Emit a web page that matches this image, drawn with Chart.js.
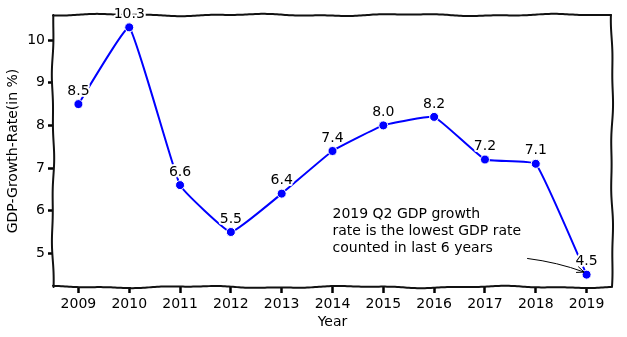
<!DOCTYPE html>
<html>
<head>
<meta charset="utf-8">
<script src="https://cdn.jsdelivr.net/npm/chart.js@4.4.1/dist/chart.umd.min.js"></script>
<style>
    html, body { margin: 0; padding: 0; background: #fff; }
    #chart { display: block; }
</style>
</head>
<body>
<canvas id="chart" width="627" height="337"></canvas>
<script>
const years = [2009, 2010, 2011, 2012, 2013, 2014, 2015, 2016, 2017, 2018, 2019];
const growthRates = [8.5, 10.3, 6.6, 5.5, 6.4, 7.4, 8.0, 8.2, 7.2, 7.1, 4.5];
const yTicks = [5, 6, 7, 8, 9, 10];
const noteLines = ["2019 Q2 GDP growth", "rate is the lowest GDP rate", "counted in last 6 years"];
const noteAt = [2014, 5.12];        // left / middle of the last text line
const arrowFrom = [2017.83, 4.88];
const arrowTo = [2018.95, 4.56];

const FONT = "'DejaVu Sans', sans-serif";

// deterministic hand-drawn wobble for the frame
function wobble(t, seed) {
    return 0.8 * Math.sin(t / 24 + seed) + 0.4 * Math.sin(t / 9.1 + seed * 2.1);
}

function haloText(ctx, text, x, y) {
    ctx.lineWidth = 4;
    ctx.strokeStyle = "#fff";
    ctx.lineJoin = "round";
    ctx.strokeText(text, x, y);
    ctx.fillStyle = "#000";
    ctx.fillText(text, x, y);
}

const sketchFrame = {
    id: "sketchFrame",
    beforeDatasetsDraw(chart) {
        const { ctx, chartArea: a } = chart;
        ctx.save();
        ctx.strokeStyle = "#111";
        ctx.lineWidth = 2;
        ctx.lineCap = "round";
        ctx.beginPath();
        for (let x = a.left; x <= a.right; x += 2) {
            const y = a.top + wobble(x, 0.3);
            x === a.left ? ctx.moveTo(x, y) : ctx.lineTo(x, y);
        }
        ctx.stroke();
        ctx.beginPath();
        for (let x = a.left; x <= a.right; x += 2) {
            const y = a.bottom + wobble(x, 2.7);
            x === a.left ? ctx.moveTo(x, y) : ctx.lineTo(x, y);
        }
        ctx.stroke();
        ctx.beginPath();
        for (let y = a.top; y <= a.bottom; y += 2) {
            const x = a.left + wobble(y, 1.4);
            y === a.top ? ctx.moveTo(x, y) : ctx.lineTo(x, y);
        }
        ctx.stroke();
        ctx.beginPath();
        for (let y = a.top; y <= a.bottom; y += 2) {
            const x = a.right + wobble(y, 4.1);
            y === a.top ? ctx.moveTo(x, y) : ctx.lineTo(x, y);
        }
        ctx.stroke();
        ctx.restore();
    },
};

const valueLabels = {
    id: "valueLabels",
    afterDatasetsDraw(chart) {
        const { ctx, scales } = chart;
        const meta = chart.getDatasetMeta(0);
        ctx.save();
        ctx.font = "14px " + FONT;
        ctx.textAlign = "center";
        ctx.textBaseline = "middle";
        meta.data.forEach((pt, i) => {
            haloText(ctx, growthRates[i].toFixed(1), pt.x, pt.y - 13);
        });

        // annotation text
        ctx.textAlign = "left";
        const lx = scales.x.getPixelForValue(noteAt[0]);
        const ly = scales.y.getPixelForValue(noteAt[1]);
        noteLines.forEach((line, i) => {
            haloText(ctx, line, lx, ly - (noteLines.length - 1 - i) * 16.8);
        });

        // curved arrow
        const x0 = scales.x.getPixelForValue(arrowFrom[0]);
        const y0 = scales.y.getPixelForValue(arrowFrom[1]);
        const x1 = scales.x.getPixelForValue(arrowTo[0]);
        const y1 = scales.y.getPixelForValue(arrowTo[1]);
        const cx = (x0 + x1) / 2 + 2;
        const cy = (y0 + y1) / 2 - 3;
        ctx.strokeStyle = "#000";
        ctx.lineWidth = 1;
        ctx.beginPath();
        ctx.moveTo(x0, y0);
        ctx.quadraticCurveTo(cx, cy, x1, y1);
        ctx.stroke();
        const ang = Math.atan2(y1 - cy, x1 - cx);
        ctx.beginPath();
        ctx.moveTo(x1 - 8 * Math.cos(ang - 0.4), y1 - 8 * Math.sin(ang - 0.4));
        ctx.lineTo(x1, y1);
        ctx.lineTo(x1 - 8 * Math.cos(ang + 0.4), y1 - 8 * Math.sin(ang + 0.4));
        ctx.stroke();
        ctx.restore();
    },
};

new Chart(document.getElementById("chart"), {
    type: "line",
    data: {
        datasets: [{
            data: years.map((y, i) => ({ x: y, y: growthRates[i] })),
            borderColor: "#0000ff",
            borderWidth: 2,
            tension: 0.1,
            pointRadius: 4.5,
            pointBackgroundColor: "#0000ff",
            pointBorderColor: "#fff",
            pointBorderWidth: 1,
        }],
    },
    options: {
        responsive: false,
        animation: false,
        layout: { padding: { top: 15, right: 15, left: 0, bottom: 0 } },
        plugins: {
            legend: { display: false },
            tooltip: { enabled: false },
        },
        scales: {
            x: {
                type: "linear",
                min: 2008.5,
                max: 2019.5,
                afterBuildTicks: (s) => { s.ticks = years.map((v) => ({ value: v })); },
                afterFit: (s) => { s.height = 50; },
                ticks: {
                    callback: (v) => String(v),
                    color: "#000",
                    font: { family: FONT, size: 14 },
                    padding: 3,
                    maxRotation: 0,
                },
                grid: {
                    drawOnChartArea: false,
                    drawTicks: true,
                    tickLength: 6,
                    tickWidth: 2.5,
                    tickColor: "#000",
                },
                border: { display: false },
                title: {
                    display: true,
                    text: "Year",
                    color: "#000",
                    font: { family: FONT, size: 14 },
                    padding: { top: 0, bottom: 6 },
                },
            },
            y: {
                min: 4.21,
                max: 10.59,
                afterBuildTicks: (s) => { s.ticks = yTicks.map((v) => ({ value: v })); },
                afterFit: (s) => { s.width = 53; },
                ticks: {
                    color: "#000",
                    font: { family: FONT, size: 14 },
                    padding: 3,
                },
                grid: {
                    drawOnChartArea: false,
                    drawTicks: true,
                    tickLength: 5,
                    tickWidth: 2.5,
                    tickColor: "#000",
                },
                border: { display: false },
                title: {
                    display: true,
                    text: "GDP-Growth-Rate(in %)",
                    color: "#000",
                    font: { family: FONT, size: 14 },
                    padding: { top: 5, bottom: 0 },
                },
            },
        },
    },
    plugins: [sketchFrame, valueLabels],
});
</script>
</body>
</html>
